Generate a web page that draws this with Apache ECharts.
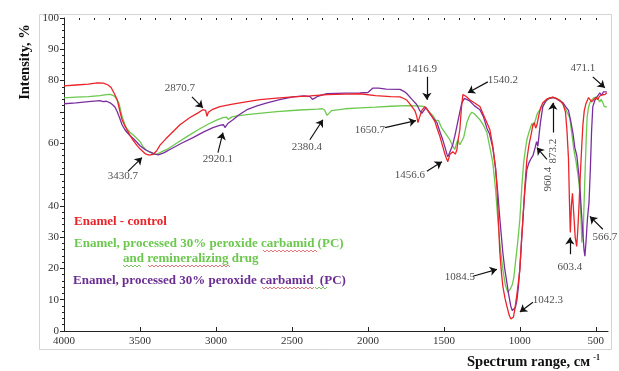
<!DOCTYPE html>
<html>
<head>
<meta charset="utf-8">
<script src="https://cdn.jsdelivr.net/npm/echarts@6/dist/echarts.min.js"></script>
<style>
  html, body { margin: 0; padding: 0; background: #ffffff; }
  #chart { width: 619px; height: 371px; }
</style>
</head>
<body>
<div id="chart"></div>
<script>
// Axis ticks
const wavenumberTicks = [4000, 3500, 3000, 2500, 2000, 1500, 1000, 500];
const intensityTicks = [0, 10, 20, 30, 40, 60, 80, 90, 100];

// Series names (legend captions)
const nameControl = 'Enamel - control';
const namePcRemin = 'Enamel, processed 30% peroxide carbamid (PC)';
const namePcReminLine2 = 'and remineralizing drug';
const namePc = 'Enamel, processed 30% peroxide carbamid  (PC)';

// Spectra: [wavenumber, intensity %]
const enamelControl = [
  [4000,78.3],[3920,78.6],[3840,78.9],[3780,79.3],[3740,79.2],[3710,78.6],[3690,77.8],[3665,75.5],[3650,73.9],
  [3632,70.2],[3618,67.5],[3600,65.6],[3586,64.3],[3566,62.6],[3546,61.0],[3520,59.3],[3500,58.2],[3467,56.7],
  [3440,56.2],[3414,56.4],[3390,57.6],[3368,59.4],[3330,61.4],[3303,62.7],[3237,65.9],[3171,68.2],[3118,69.7],
  [3086,70.7],[3068,70.5],[3059,68.6],[3050,69.9],[3026,70.7],[2974,71.7],[2900,72.4],[2842,72.9],[2711,73.9],
  [2600,74.4],[2493,74.8],[2380,75.1],[2270,75.5],[2150,75.7],[2053,75.8],[1950,75.2],[1850,74.9],[1789,74.8],
  [1760,74.2],[1743,73.7],[1715,72.0],[1690,70.3],[1678,68.5],[1671,66.6],[1662,68.0],[1645,70.5],[1625,71.7],
  [1612,71.5],[1595,69.8],[1575,68.2],[1559,66.9],[1545,64.8],[1526,62.1],[1505,58.5],[1490,56.0],[1474,54.1],
  [1460,56.5],[1441,57.3],[1425,56.5],[1415,57.8],[1405,61.5],[1395,64.3],[1385,71.0],[1375,75.5],[1355,75.0],
  [1330,73.9],[1300,72.9],[1263,71.7],[1230,68.0],[1197,64.3],[1178,59.0],[1160,52.0],[1151,46.0],[1140,34.0],
  [1132,25.2],[1120,18.0],[1112,14.3],[1098,10.5],[1086,8.0],[1070,5.0],[1059,3.8],[1050,3.6],[1042,4.5],
  [1033,7.0],[1020,11.5],[1010,15.5],[1000,19.7],[990,28.0],[980,35.7],[967,46.2],[954,54.8],[940,59.5],
  [925,63.0],[914,65.9],[905,66.6],[896,64.8],[888,65.8],[875,69.0],[862,71.5],[849,72.9],[820,74.2],
  [800,74.5],[783,74.7],[760,74.3],[737,73.6],[717,72.6],[700,70.0],[690,64.0],[680,55.0],[674,42.0],
  [668,31.5],[661,40.0],[654,44.0],[646,38.0],[636,30.0],[626,27.0],[618,33.0],[610,41.0],[602,50.0],
  [594,58.0],[585,66.0],[576,70.5],[566,72.5],[559,72.9],[548,74.6],[538,74.2],[528,73.2],[515,73.8],
  [500,74.6],[488,73.9],[476,75.0],[462,75.4],[450,75.9],[438,75.6],[428,76.1]
];

const enamelPcRemin = [
  [4000,74.5],[3920,74.7],[3840,74.9],[3763,75.2],[3720,75.5],[3697,75.6],[3678,75.3],[3664,74.8],[3651,74.5],
  [3640,73.0],[3632,71.4],[3618,68.5],[3599,66.0],[3586,64.6],[3566,63.5],[3546,62.7],[3520,61.5],[3500,60.5],
  [3480,58.9],[3454,57.6],[3430,57.0],[3410,56.6],[3401,56.4],[3388,56.5],[3360,57.2],[3322,58.0],[3260,60.0],
  [3191,62.1],[3120,64.2],[3059,65.9],[3000,67.3],[2954,68.2],[2930,68.3],[2920,67.6],[2908,67.6],[2895,68.4],
  [2860,68.7],[2796,69.1],[2700,69.6],[2599,70.1],[2450,70.6],[2330,70.9],[2300,71.0],[2285,70.6],[2270,68.9],
  [2255,69.6],[2240,70.4],[2230,70.7],[2150,71.0],[2053,71.3],[1950,71.5],[1850,71.8],[1743,72.0],[1680,71.9],
  [1640,71.8],[1625,71.6],[1610,70.8],[1592,69.7],[1570,68.7],[1555,67.4],[1546,66.9],[1535,67.2],[1520,65.4],
  [1507,64.3],[1485,62.8],[1461,61.1],[1445,59.4],[1428,58.0],[1418,59.8],[1408,61.1],[1395,59.5],[1382,58.9],
  [1370,61.8],[1349,66.6],[1330,69.0],[1316,69.9],[1300,69.4],[1263,67.5],[1240,65.8],[1217,63.4],[1195,58.0],
  [1178,53.8],[1160,45.2],[1145,35.7],[1130,27.0],[1112,19.7],[1095,14.5],[1079,12.4],[1072,12.6],[1062,13.5],
  [1050,14.8],[1040,17.0],[1030,21.5],[1015,28.0],[1000,35.7],[987,46.2],[975,53.8],[965,57.5],[954,61.1],
  [940,63.5],[930,65.0],[921,66.3],[910,65.5],[900,67.0],[885,69.5],[868,70.7],[845,72.2],[825,73.6],
  [803,74.5],[783,74.6],[760,74.3],[737,73.8],[715,72.4],[700,71.0],[685,69.5],[671,68.0],[658,63.0],
  [645,58.0],[630,54.0],[615,49.0],[605,44.0],[598,36.0],[592,28.3],[588,32.0],[584,30.0],[578,40.0],
  [570,52.0],[563,62.0],[557,68.5],[548,71.5],[539,73.0],[525,74.0],[510,74.6],[495,74.8],[484,74.0],
  [474,73.2],[465,74.0],[454,72.9],[445,71.8],[435,72.3],[428,71.5]
];

const enamelPc = [
  [4000,72.6],[3920,72.9],[3840,73.3],[3763,73.6],[3743,73.3],[3720,73.4],[3697,72.9],[3680,72.3],[3664,71.5],
  [3651,70.2],[3632,67.8],[3618,65.9],[3599,64.3],[3586,63.5],[3566,62.4],[3546,61.6],[3520,60.3],[3500,59.2],
  [3467,58.0],[3434,57.2],[3401,56.5],[3380,56.3],[3368,56.4],[3340,57.0],[3303,58.0],[3230,59.9],[3151,61.8],
  [3080,63.6],[3020,65.0],[2970,65.8],[2950,65.9],[2941,65.0],[2932,65.6],[2920,66.4],[2888,67.5],[2850,69.0],
  [2796,70.7],[2730,71.9],[2664,72.9],[2580,73.9],[2493,74.8],[2420,75.1],[2380,74.9],[2365,74.0],[2350,74.4],
  [2330,75.0],[2270,75.8],[2150,76.0],[2053,76.1],[2000,76.2],[1987,76.6],[1967,77.6],[1930,77.6],[1880,77.3],
  [1789,77.2],[1760,76.5],[1743,75.8],[1710,74.0],[1678,72.3],[1660,70.5],[1645,69.5],[1632,70.4],[1618,71.4],
  [1605,70.8],[1590,69.3],[1570,68.0],[1546,66.6],[1525,63.5],[1507,61.0],[1494,58.9],[1480,56.5],[1474,55.7],
  [1462,57.0],[1450,58.5],[1441,59.6],[1425,63.0],[1410,66.5],[1395,70.0],[1382,72.9],[1365,74.3],[1356,74.5],
  [1330,73.5],[1300,72.0],[1263,70.7],[1240,68.5],[1217,64.8],[1200,63.0],[1178,58.5],[1160,52.0],[1145,44.0],
  [1132,36.0],[1112,25.0],[1100,20.0],[1086,15.6],[1075,12.0],[1060,8.0],[1050,6.5],[1046,6.1],[1038,6.6],
  [1030,7.5],[1020,9.6],[1010,14.0],[1000,20.0],[990,28.0],[980,35.7],[967,45.0],[954,51.6],[940,53.8],
  [925,55.2],[914,56.0],[900,58.5],[890,60.5],[882,59.0],[875,62.0],[865,66.5],[849,71.7],[830,73.5],
  [815,74.2],[783,74.6],[760,74.2],[737,73.5],[717,73.0],[700,71.8],[680,70.5],[665,67.0],[650,63.0],
  [638,58.5],[625,56.0],[612,50.0],[605,46.0],[595,38.0],[585,31.0],[578,26.0],[572,23.9],[564,29.0],
  [555,36.0],[545,41.0],[536,52.0],[528,64.0],[520,71.7],[508,73.5],[495,74.6],[485,74.9],[474,76.1],
  [462,75.3],[450,76.4],[440,75.8],[428,76.4]
];

// Peak annotations: caption, caption anchor, arrow tail, arrow head (data units)
const peakLabels   = ['3430.7', '2870.7', '2920.1', '2380.4', '1416.9', '1540.2', '1650.7', '1456.6',
                      '471.1', '873.2', '960.4', '1084.5', '1042.3', '603.4', '566.7'];
const peakTextAt   = [[3612,49.4],[3237,77.7],[2987,54.8],[2401,58.6],[1645,83.8],[1112,80.3],[1987,64.3],[1724,49.7],
                      [586,84.1],[783,57.5],[816,48.5],[1395,17.2],[816,9.9],[671,20.4],[441,29.9]];
const peakArrowFrom = [[3579,51.0],[3158,74.8],[2987,57.0],[2382,61.1],[1612,81.2],[1211,79.6],[1888,65.0],[1612,51.0],
                      [520,81.2],[783,63.4],[822,54.8],[1309,17.5],[914,9.2],[671,24.5],[454,32.5]];
const peakArrowTo  = [[3487,55.4],[3086,71.3],[2954,63.4],[2296,67.5],[1612,73.9],[1342,76.1],[1684,67.2],[1513,54.1],
                      [441,77.7],[783,72.9],[888,58.6],[1151,19.7],[1000,6.1],[671,29.9],[539,36.6]];
const peakVertical = ['873.2', '960.4'];

const colorControl = '#ec2329';
const colorPcRemin = '#6cc84e';
const colorPc = '#7a2e9e';
const legendPc = '#6a2d92';
const serif = '"Liberation Serif", "DejaVu Serif", serif';

const minorWavenumbers = [];
for (let w = 500; w <= 4000; w += 100) minorWavenumbers.push(w);

const chart = echarts.init(document.getElementById('chart'), null, { renderer: 'canvas' });

function lineSeries(name, data, color, z) {
  return {
    name, type: 'line', data, showSymbol: false, symbol: 'none', z,
    lineStyle: { color, width: 1.3 }, silent: true, animation: false
  };
}

// Wavy spell-check style underline
function squiggle(x0, x1, y, color) {
  const pts = [];
  let up = true;
  for (let x = x0; x <= x1; x += 2) { pts.push([x, up ? y - 1 : y + 1]); up = !up; }
  return { type: 'polyline', shape: { points: pts }, style: { stroke: color, lineWidth: 0.8, fill: null }, silent: true };
}

const option = {
  animation: false,
  backgroundColor: '#ffffff',
  grid: { left: 64, right: 11, top: 18, bottom: 40, containLabel: false },
  xAxis: [
    {
      type: 'value', inverse: true, min: 420, max: 4000,
      axisLine: { show: true, lineStyle: { color: '#222', width: 1 } },
      axisTick: { show: true, inside: true, length: 4, customValues: wavenumberTicks, lineStyle: { color: '#222' } },
      axisLabel: {
        customValues: wavenumberTicks, color: '#333', fontFamily: serif, fontSize: 11, margin: 5,
        formatter: v => String(v)
      },
      splitLine: { show: false }
    },
    {
      type: 'value', inverse: true, min: 420, max: 4000,
      axisLine: { show: false },
      axisTick: { show: true, inside: true, length: 2, customValues: minorWavenumbers, lineStyle: { color: '#222' } },
      axisLabel: { show: false },
      splitLine: { show: false }
    }
  ],
  yAxis: {
    type: 'value', min: 0, max: 100, interval: 10,
    axisLine: { show: true, lineStyle: { color: '#222', width: 1 } },
    axisTick: { show: true, inside: false, length: 4, lineStyle: { color: '#222' } },
    minorTick: { show: true, splitNumber: 5, length: 2, lineStyle: { color: '#222' } },
    axisLabel: {
      color: '#333', fontFamily: serif, fontSize: 11, margin: 5,
      formatter: v => (intensityTicks.indexOf(v) >= 0 ? String(v) : '')
    },
    splitLine: { show: false }
  },
  series: [
    lineSeries(namePcRemin, enamelPcRemin, colorPcRemin, 2),
    lineSeries(namePc, enamelPc, colorPc, 3),
    lineSeries(nameControl, enamelControl, colorControl, 4),
    {
      type: 'lines', coordinateSystem: 'cartesian2d', z: 6, silent: true,
      symbol: ['none', 'arrow'], symbolSize: 7,
      lineStyle: { color: '#111', width: 1.2, opacity: 1 },
      data: peakLabels.map((t, i) => ({ coords: [peakArrowFrom[i], peakArrowTo[i]] }))
    },
    {
      type: 'scatter', z: 7, silent: true, symbolSize: 0,
      data: peakLabels.map((t, i) => ({
        value: peakTextAt[i], name: t,
        label: { rotate: peakVertical.indexOf(t) >= 0 ? 90 : 0 }
      })),
      label: {
        show: true, position: 'inside', formatter: p => p.name,
        color: '#222', fontFamily: serif, fontSize: 11
      }
    }
  ],
  graphic: [
    { type: 'rect', shape: { x: 39.5, y: 14.5, width: 572, height: 335 },
      style: { stroke: '#d4d4d4', lineWidth: 1, fill: null }, z: -1, silent: true },
    { type: 'text', x: 25, y: 62, rotation: Math.PI / 2,
      style: { text: 'Intensity, %', font: 'bold 14.5px ' + serif, fill: '#111', align: 'center', verticalAlign: 'middle' } },
    { type: 'text', x: 467, y: 362,
      style: {
        text: '{m|Spectrum range, см} {s|-1}', verticalAlign: 'middle',
        rich: {
          m: { font: 'bold 14.5px ' + serif, fill: '#111' },
          s: { font: 'bold 8px ' + serif, fill: '#111', verticalAlign: 'top', padding: [0, 0, 8, 0] }
        }
      } },
    { type: 'text', x: 74, y: 222, style: { text: nameControl, font: 'bold 13px ' + serif, fill: colorControl, verticalAlign: 'middle' } },
    { type: 'text', x: 74, y: 244, style: { text: namePcRemin, font: 'bold 13px ' + serif, fill: colorPcRemin, verticalAlign: 'middle' } },
    { type: 'text', x: 123, y: 259, style: { text: namePcReminLine2, font: 'bold 13px ' + serif, fill: colorPcRemin, verticalAlign: 'middle' } },
    { type: 'text', x: 73, y: 281, style: { text: namePc, font: 'bold 13px ' + serif, fill: legendPc, verticalAlign: 'middle' } },
    squiggle(263, 317, 251, '#e0555a'),
    squiggle(123, 141, 266, '#5cae3e'),
    squiggle(148, 231, 266, '#e0555a'),
    squiggle(262, 315, 288, '#e0555a'),
    squiggle(315, 328, 288, '#5cae3e')
  ]
};

chart.setOption(option);
</script>
</body>
</html>
